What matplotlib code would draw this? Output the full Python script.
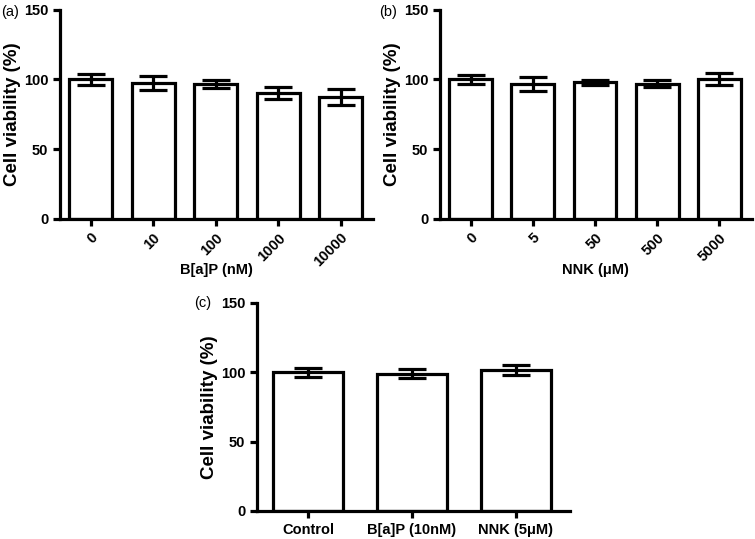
import matplotlib
matplotlib.use("Agg")
from matplotlib import pyplot as plt

# panel (a): B[a]P
bap_doses = ["0", "10", "100", "1000", "10000"]
bap_mean = [100, 97.4, 96.7, 90.2, 87.3]
bap_err = [4.2, 4.8, 3.0, 4.4, 5.7]

# panel (b): NNK
nnk_doses = ["0", "5", "50", "500", "5000"]
nnk_mean = [100, 96.6, 98.0, 97.0, 100.3]
nnk_err = [3.2, 4.9, 1.8, 2.6, 4.3]

# panel (c): selected doses
sel_groups = ["Control", "B[a]P (10nM)", "NNK (5μM)"]
sel_mean = [100, 99.0, 101.7]
sel_err = [3.4, 3.4, 3.7]

plt.rcParams["font.family"] = ["Liberation Sans", "DejaVu Sans"]
LW = 2.3


def bar_panel(ax, labels, means, errs, xlabel, rotate, width):
    x = list(range(len(labels)))
    ax.bar(x, means, width=width, color="white", edgecolor="black", linewidth=LW, zorder=2)
    ax.errorbar(x, means, yerr=errs, fmt="none", ecolor="black",
                elinewidth=LW, capsize=10, capthick=LW, zorder=3)
    ax.set_ylim(0, 150)
    ax.set_yticks([0, 50, 100, 150])
    ax.set_xlim(-0.49, len(labels) - 0.48)
    ax.set_xticks(x)
    if rotate:
        ax.set_xticklabels(labels, rotation=45, ha="right", rotation_mode="anchor")
    else:
        ax.set_xticklabels(labels)
    for s in ["top", "right"]:
        ax.spines[s].set_visible(False)
    for s in ["left", "bottom"]:
        ax.spines[s].set_linewidth(LW)
    ax.tick_params(width=LW, length=5, labelsize=10.5)
    for t in ax.get_xticklabels() + ax.get_yticklabels():
        t.set_fontweight("bold")
    ax.set_ylabel("Cell viability (%)", fontsize=13.5, fontweight="bold", labelpad=2)
    if xlabel:
        ax.set_xlabel(xlabel, fontsize=10.5, fontweight="bold")
        ax.xaxis.set_label_coords(0.5, -0.21)
    return ax


fig = plt.figure(figsize=(7.55, 5.39), dpi=100)
ax_a = fig.add_axes([0.0795, 0.594, 0.4146, 0.388])
ax_b = fig.add_axes([0.5828, 0.594, 0.413, 0.388])
ax_c = fig.add_axes([0.3404, 0.052, 0.4146, 0.386])

bar_panel(ax_a, bap_doses, bap_mean, bap_err, "B[a]P (nM)", True, 0.69)
bar_panel(ax_b, nnk_doses, nnk_mean, nnk_err, "NNK (μM)", True, 0.69)
bar_panel(ax_c, sel_groups, sel_mean, sel_err, None, False, 0.67)

fig.text(0.002, 0.99, "(a)", fontsize=10.5, va="top")
fig.text(0.502, 0.99, "(b)", fontsize=10.5, va="top")
fig.text(0.257, 0.45, "(c)", fontsize=10.5, va="top")

fig.savefig("out.png", dpi=100)
